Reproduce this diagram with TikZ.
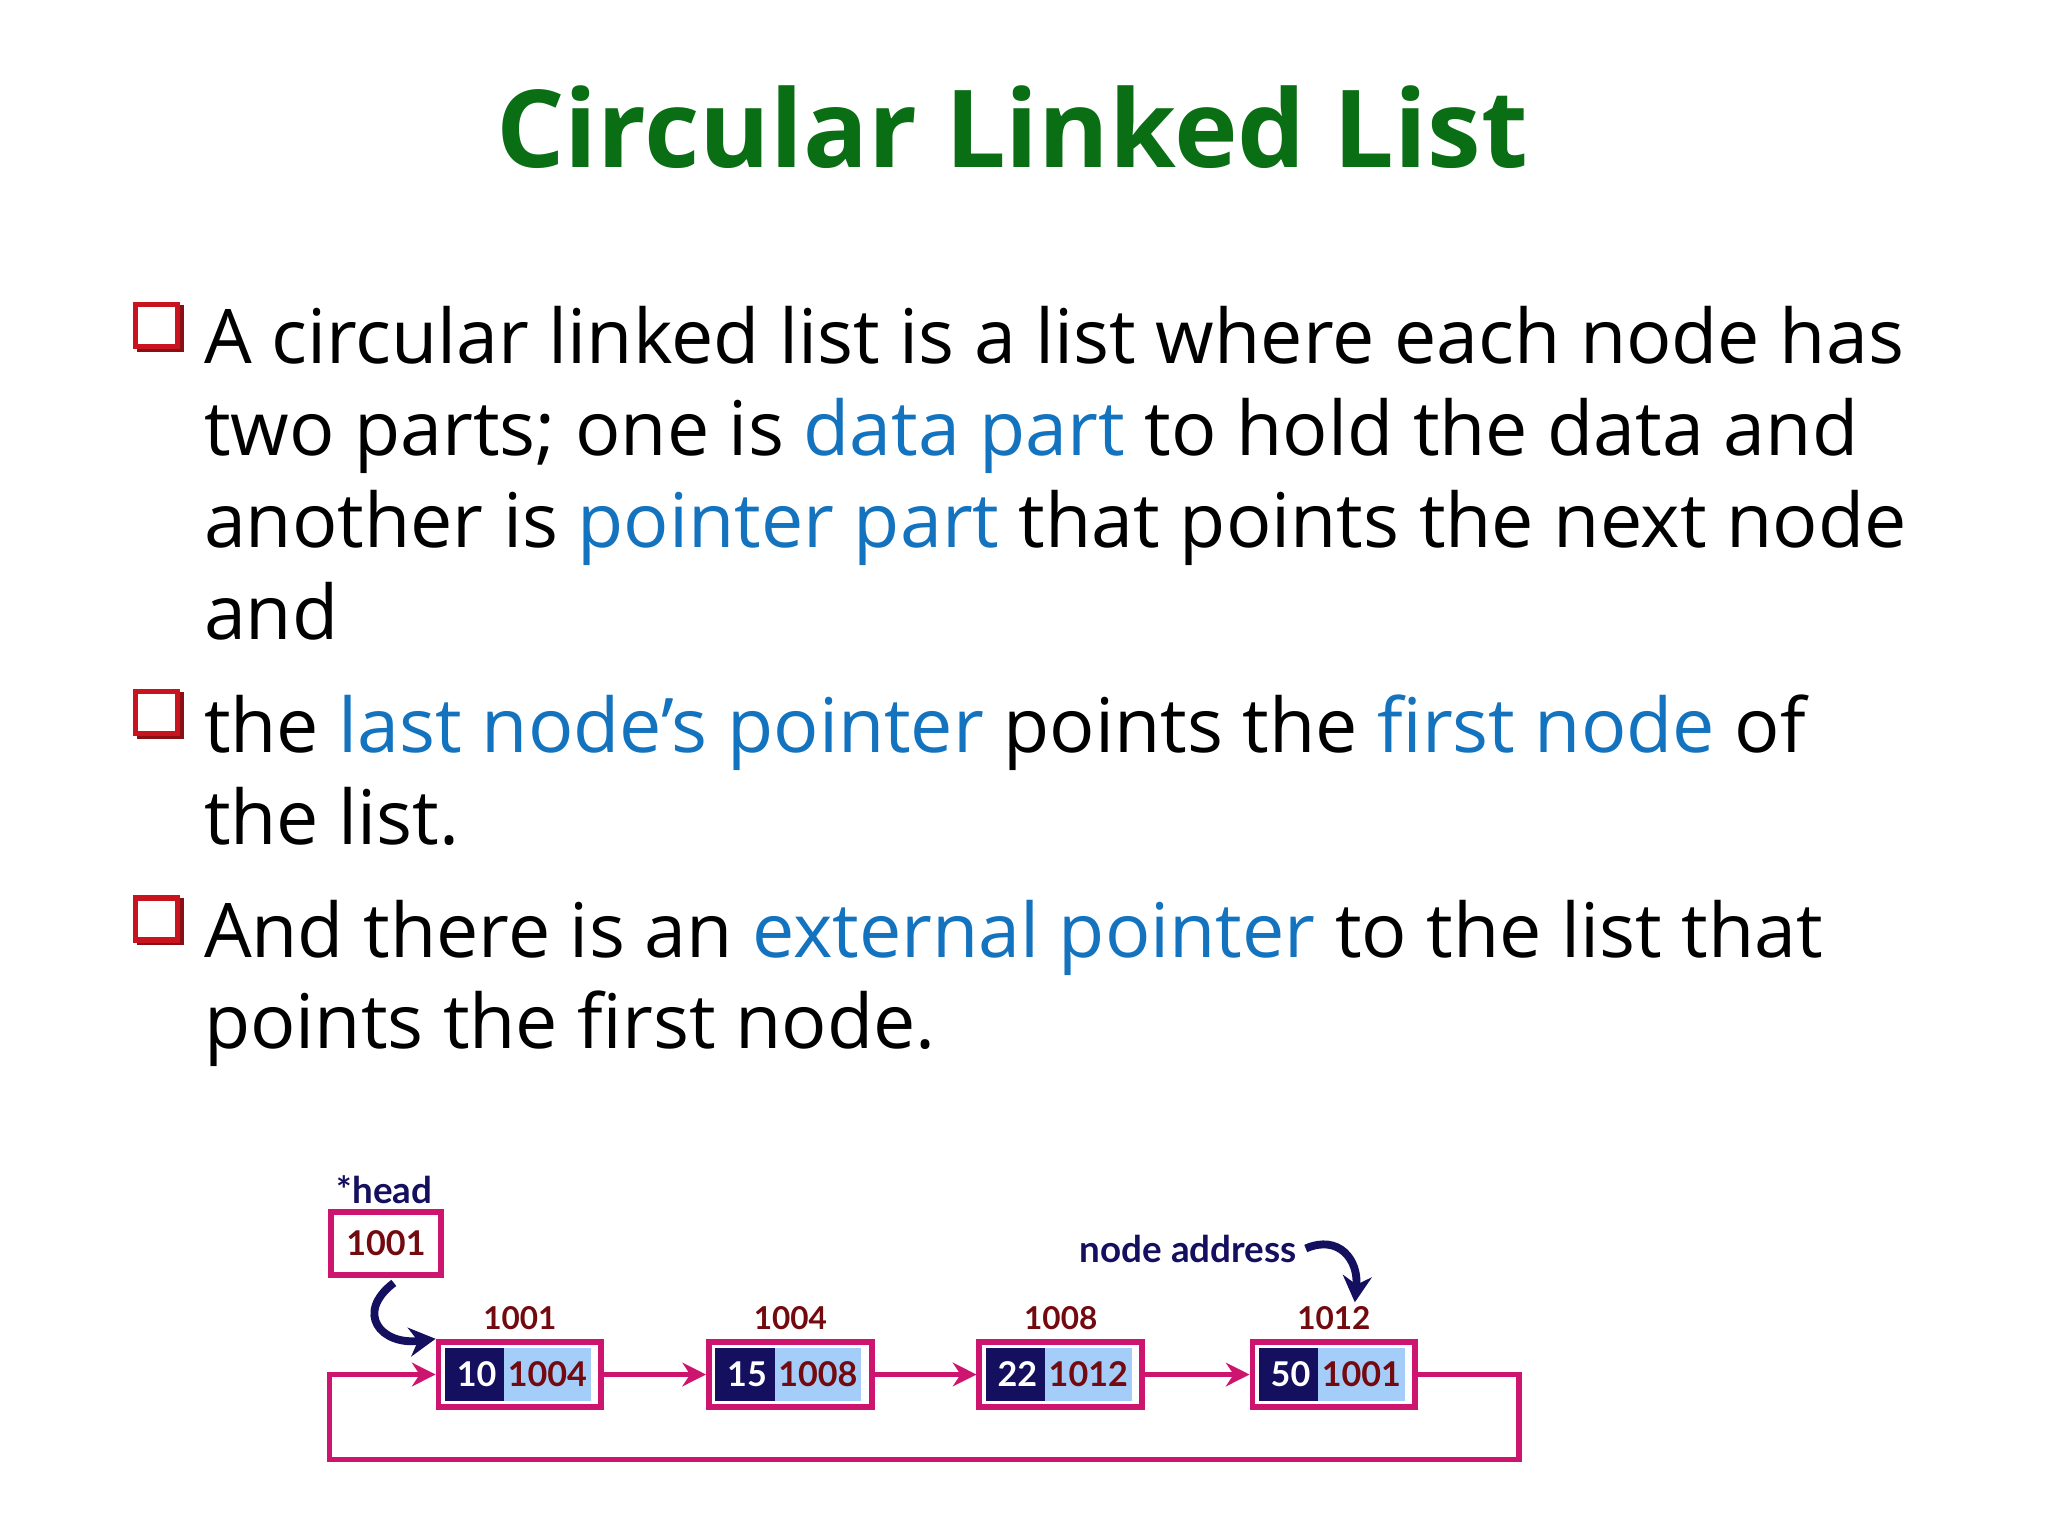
\documentclass[tikz,border=0pt]{standalone}
\usepackage{fontspec}
\setmainfont{Open Sans}
\newfontfamily\diafont{Lato}
\usetikzlibrary{arrows.meta}
\definecolor{ttl}{RGB}{10,110,20}
\definecolor{blu}{RGB}{20,115,190}
\definecolor{bred}{RGB}{200,20,30}
\definecolor{pnk}{RGB}{205,20,110}
\definecolor{nav}{RGB}{20,15,95}
\definecolor{lbl}{RGB}{165,205,250}
\definecolor{drd}{RGB}{115,10,15}
\tikzset{
  line/.style={anchor=base west,inner sep=0pt,font=\fontsize{28.7}{30}\selectfont},
  bul/.style={draw=bred,line width=2pt,minimum size=16pt,inner sep=0pt,fill=white},
  pbox/.style={draw=pnk,line width=2.2pt,inner sep=0pt},
  dat/.style={fill=nav,text=white,inner sep=0pt,font=\diafont\bfseries\fontsize{13}{14}\selectfont},
  ptr/.style={fill=lbl,text=drd,inner sep=0pt,font=\diafont\bfseries\fontsize{13}{14}\selectfont},
  addr/.style={text=drd,font=\diafont\bfseries\fontsize{12}{14}\selectfont},
  conn/.style={pnk,line width=2pt,-{Stealth[length=9pt,width=9pt]}},
  hp/.style={nav,line width=3pt,-{Stealth[length=10pt,width=11pt]}}
}
\begin{document}
\begin{tikzpicture}[x=0.5pt,y=-0.5pt]
\useasboundingbox[fill=white] (0,0) rectangle (1560,1170);
\node[text=ttl,font=\bfseries\fontsize{41}{46}\selectfont] (title) at (771,97) {Circular Linked List};
% bullets
\foreach \yy/\nm in {248/b1,543/b2,700/b3}{
  \fill[bred!70!black] (104,\yy-16) rectangle (140,\yy+20);
  \node[bul] (\nm) at (119,\yy) {};
}
\node[line] (l1) at (155,277) {A circular linked list is a list where each node has};
\node[line] (l2) at (155,347) {two parts; one is \textcolor{blu}{data part} to hold the data and};
\node[line] (l3) at (155,417) {another is \textcolor{blu}{pointer part} that points the next node};
\node[line] (l4) at (155,487) {and};
\node[line] (l5) at (155,573) {the \textcolor{blu}{last node’s pointer} points the \textcolor{blu}{first node} of};
\node[line] (l6) at (155,643) {the list.};
\node[line] (l7) at (155,729) {And there is an \textcolor{blu}{external pointer} to the list that};
\node[line] (l8) at (155,799) {points the first node.};
% diagram
\node[text=nav,font=\diafont\bfseries\fontsize{14}{16}\selectfont] (hl) at (293,906) {*head};
\node[pbox,minimum width=42pt,minimum height=24pt,text=drd,font=\diafont\bfseries\fontsize{13}{14}\selectfont] (hb) at (294,947) {1001};
\foreach \n/\cx/\d/\p/\a in {n1/396/10/1004/1001, n2/602/15/1008/1004, n3/808/22/1012/1008, n4/1016/50/1001/1012}{
  \node[pbox,minimum width=62pt,minimum height=25pt] (\n) at (\cx,1047) {};
  \node[dat,minimum width=24pt,minimum height=20pt] (\n d) at (\cx-33,1047) {\d};
  \node[ptr,minimum width=33pt,minimum height=20pt] (\n p) at (\cx+21,1047) {\p};
  \node[addr] (\n a) at (\cx,1047-43) {\a};
}
\draw[conn] (n1.east) -- (n2.west);
\draw[conn] (n2.east) -- (n3.west);
\draw[conn] (n3.east) -- (n4.west);
\coordinate (c1) at (1157,1047);
\coordinate (c2) at (1157,1112);
\coordinate (c3) at (251,1112);
\coordinate (c4) at (251,1047);
\draw[conn] (n4.east) -- (c1) -- (c2) -- (c3) -- (c4) -- (n1.west);
\draw[hp] (hb.south) ++(6,4) .. controls (270,1000) and (290,1025) .. (n1.north west);
\node[text=nav,font=\diafont\bfseries\fontsize{14}{16}\selectfont] (na) at (905,951) {node address};
\draw[hp] (na.east) .. controls (1020,940) and (1035,960) .. (1032,992);
\end{tikzpicture}
\end{document}
